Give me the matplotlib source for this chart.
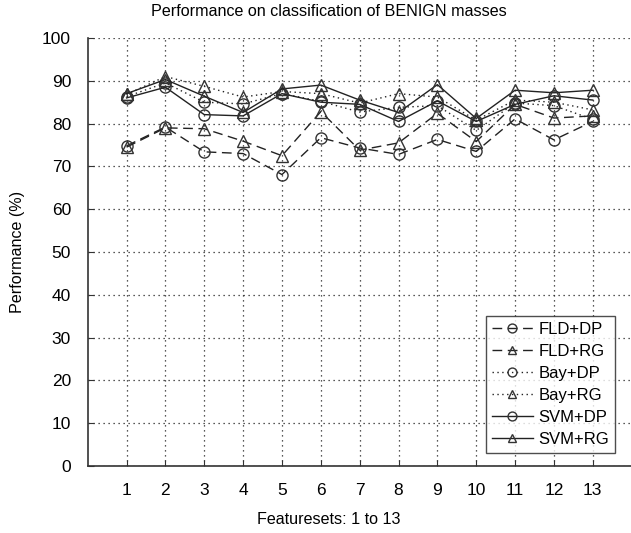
import matplotlib
matplotlib.use("Agg")
import matplotlib.pyplot as plt

plt.rcParams['font.family'] = ['Liberation Sans', 'DejaVu Sans']

featuresets = list(range(1, 14))
fld_dp = [74.8, 79.2, 73.4, 73.0, 68.1, 76.7, 74.3, 72.8, 76.3, 73.5, 81.1, 76.2, 80.5]
fld_rg = [74.5, 79.0, 78.8, 75.9, 72.5, 82.8, 73.8, 75.5, 82.4, 75.8, 84.5, 81.3, 81.8]
bay_dp = [86.3, 89.5, 85.0, 84.6, 87.0, 85.2, 82.7, 83.8, 84.2, 78.4, 84.8, 84.2, 81.0]
bay_rg = [86.8, 91.0, 88.7, 86.2, 87.5, 87.0, 84.8, 87.0, 86.2, 80.8, 85.5, 85.0, 83.2]
svm_dp = [86.0, 88.5, 82.1, 81.8, 87.0, 85.0, 84.5, 80.5, 85.3, 80.5, 84.5, 86.5, 85.5]
svm_rg = [87.0, 90.3, 86.4, 82.6, 88.1, 89.0, 85.5, 82.6, 89.1, 81.2, 87.8, 87.2, 87.8]

series = [
    ("FLD+DP", fld_dp, (0, (7, 4)), 'o'),
    ("FLD+RG", fld_rg, (0, (7, 4)), '^'),
    ("Bay+DP", bay_dp, (0, (1, 2.5)), 'o'),
    ("Bay+RG", bay_rg, (0, (1, 2.5)), '^'),
    ("SVM+DP", svm_dp, '-', 'o'),
    ("SVM+RG", svm_rg, '-', '^'),
]

fig = plt.figure(figsize=(6.31, 5.33), dpi=100)
ax = fig.add_axes([0.139, 0.1257, 0.862, 0.803])

for name, vals, ls, mk in series:
    ax.plot(featuresets, vals, linestyle=ls, color='#222222', linewidth=1.0,
            marker=mk, markersize=8, markerfacecolor='none',
            markeredgecolor='#333333', markeredgewidth=1.0, label=name)

ax.set_xlim(0, 14)
ax.set_ylim(0, 100)
ax.set_xticks(featuresets)
ax.set_yticks(range(0, 101, 10))
ax.tick_params(axis='both', direction='in', labelsize=12.5, length=4, color='#333333')
ax.tick_params(axis='x', pad=12)
ax.tick_params(axis='y', pad=12)
ax.grid(True, linestyle=(0, (1, 3)), color='#222222', linewidth=0.9)
ax.spines['top'].set_visible(False)
ax.spines['right'].set_visible(False)
for s in ['left', 'bottom']:
    ax.spines[s].set_color('#333333')
    ax.spines[s].set_linewidth(1.2)

ax.set_title("Performance on classification of BENIGN masses", fontsize=11.6,
             pad=16, x=0.443)
ax.set_xlabel("Featuresets: 1 to 13", fontsize=11.6, labelpad=10, x=0.443)
ax.set_ylabel("Performance (%)", fontsize=11.6, labelpad=12)

leg = ax.legend(loc='lower right', bbox_to_anchor=(0.969, 0.03), fontsize=12,
                frameon=True, fancybox=False, edgecolor='#222222',
                handlelength=2.5, handletextpad=0.3, borderpad=0.35,
                labelspacing=0.42, borderaxespad=0, markerscale=0.8)
leg.get_frame().set_linewidth(1.0)

fig.savefig("out.png", dpi=100)
